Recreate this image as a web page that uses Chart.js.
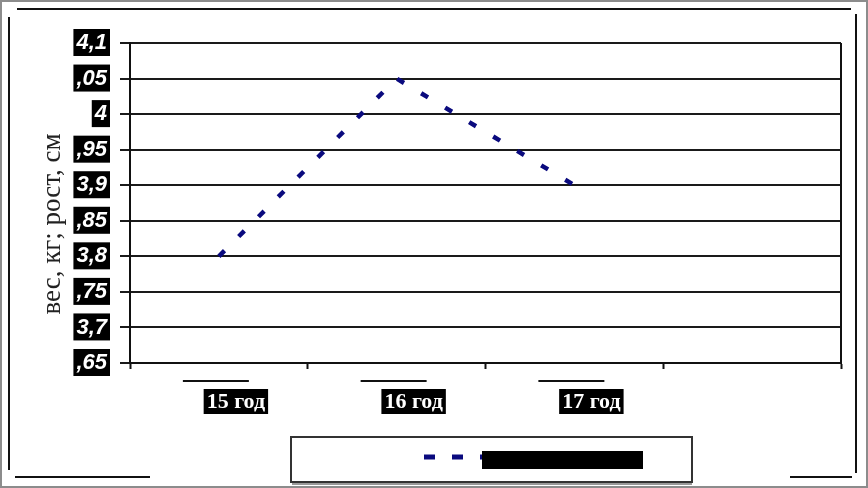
<!DOCTYPE html>
<html>
<head>
<meta charset="utf-8">
<script src="https://cdn.jsdelivr.net/npm/chart.js@4"></script>
<style>
  html, body { margin: 0; padding: 0; background: #fff; }
  canvas { display: block; }
</style>
</head>
<body>
<canvas id="growthChart" width="868" height="488"></canvas>
<script>
// данные графика
const categories = ['15 год', '16 год', '17 год', ''];
const seriesValues = [3.8, 4.05, 3.9, null];
const seriesLabel = 'вес, кг';
const yTickValues = [3.65, 3.7, 3.75, 3.8, 3.85, 3.9, 3.95, 4, 4.05, 4.1];
const yTickLabels = [',65', '3,7', ',75', '3,8', ',85', '3,9', ',95', '4', ',05', '4,1'];
const yTitle = 'вес, кг; рост, см';

const lineColor = '#0a0a7e';
const lineDash = [8, 20];

// рамки, подпись оси, черточки над подписями и легенда
const decorPlugin = {
  id: 'decor',
  beforeDraw(chart) {
    const ctx = chart.ctx;
    ctx.save();
    ctx.fillStyle = '#fff';
    ctx.fillRect(0, 0, chart.width, chart.height);
    // внешняя серая рамка
    ctx.strokeStyle = '#8c8c8c';
    ctx.lineWidth = 2;
    ctx.strokeRect(1, 1, chart.width - 2, chart.height - 2);
    // внутренняя черная рамка (с разрывами)
    ctx.strokeStyle = '#111';
    ctx.lineWidth = 2;
    ctx.beginPath();
    ctx.moveTo(17, 9); ctx.lineTo(851, 9);
    ctx.moveTo(9, 17); ctx.lineTo(9, 470);
    ctx.moveTo(15, 477); ctx.lineTo(150, 477);
    ctx.moveTo(856, 14); ctx.lineTo(856, 473);
    ctx.moveTo(790, 477); ctx.lineTo(852, 477);
    ctx.stroke();
    // подпись оси Y
    ctx.translate(53, 224);
    ctx.rotate(-Math.PI / 2);
    ctx.fillStyle = '#222';
    ctx.font = '27px "Liberation Serif", "Times New Roman", serif';
    ctx.textAlign = 'center';
    ctx.textBaseline = 'middle';
    ctx.fillText(yTitle, 0, 0);
    ctx.restore();
  },
  afterDraw(chart) {
    const ctx = chart.ctx;
    const area = chart.chartArea;
    const x = chart.scales.x;
    ctx.save();
    // правая граница области построения
    ctx.strokeStyle = '#111';
    ctx.lineWidth = 2;
    ctx.beginPath();
    ctx.moveTo(area.right, area.top);
    ctx.lineTo(area.right, area.bottom);
    ctx.stroke();
    // черточки над подписями категорий
    categories.forEach((c, i) => {
      if (!c) return;
      const cx = x.getPixelForValue(i) - 3;
      ctx.beginPath();
      ctx.moveTo(cx - 33, 381);
      ctx.lineTo(cx + 33, 381);
      ctx.stroke();
    });
    // легенда
    ctx.strokeStyle = '#333';
    ctx.strokeRect(291, 437, 401, 45);
    ctx.strokeStyle = '#999';
    ctx.beginPath();
    ctx.moveTo(292, 484); ctx.lineTo(692, 484);
    ctx.stroke();
    ctx.strokeStyle = lineColor;
    ctx.lineWidth = 5;
    ctx.setLineDash([11, 17]);
    ctx.beginPath();
    ctx.moveTo(424, 457); ctx.lineTo(482, 457);
    ctx.stroke();
    ctx.setLineDash([]);
    ctx.fillStyle = '#000';
    ctx.fillRect(482, 451, 161, 18);
    ctx.font = 'bold 16px "Liberation Serif"';
    ctx.textBaseline = 'middle';
    ctx.fillText(seriesLabel, 490, 460);
    ctx.restore();
  }
};

const ctx = document.getElementById('growthChart').getContext('2d');
new Chart(ctx, {
  type: 'line',
  data: {
    labels: categories,
    datasets: [{
      label: seriesLabel,
      data: seriesValues,
      borderColor: lineColor,
      borderWidth: 4.5,
      borderDash: lineDash,
      borderCapStyle: 'butt',
      pointRadius: 0,
      tension: 0,
      fill: false
    }]
  },
  options: {
    responsive: false,
    animation: false,
    layout: { padding: { left: 15, right: 27, top: 43, bottom: 65 } },
    plugins: {
      legend: { display: false },
      tooltip: { enabled: false }
    },
    scales: {
      x: {
        offset: true,
        afterFit(scale) { scale.height = 60; },
        grid: {
          offset: true,
          drawOnChartArea: false,
          drawTicks: true,
          tickLength: 6,
          tickWidth: 2,
          tickColor: '#111'
        },
        border: { display: true, color: '#111', width: 2 },
        ticks: {
          autoSkip: false,
          maxRotation: 0,
          padding: 22,
          labelOffset: 17,
          color: '#fff',
          font: { family: '"Liberation Serif", "Times New Roman", serif', size: 22, weight: 'bold', lineHeight: 1 },
          showLabelBackdrop: c => c.tick && c.tick.label !== '',
          backdropColor: '#000',
          backdropPadding: { top: 2, bottom: 1, left: 3, right: 3 }
        }
      },
      y: {
        min: yTickValues[0],
        max: yTickValues[yTickValues.length - 1],
        afterFit(scale) { scale.width = 115; },
        afterBuildTicks(scale) {
          scale.ticks = yTickValues.map(v => ({ value: v }));
        },
        grid: {
          color: '#1a1a1a',
          lineWidth: 2,
          drawTicks: true,
          tickLength: 10
        },
        border: { display: true, color: '#111', width: 2 },
        ticks: {
          padding: 13,
          color: '#fff',
          font: { family: '"Liberation Sans", Arial, sans-serif', size: 22, weight: 'bold', style: 'italic', lineHeight: 1 },
          showLabelBackdrop: true,
          backdropColor: '#000',
          backdropPadding: { top: 3, bottom: 2, left: 3, right: 3 },
          callback: (value, index) => yTickLabels[yTickValues.indexOf(value)] ?? ''
        }
      }
    }
  },
  plugins: [decorPlugin]
});
</script>
</body>
</html>
